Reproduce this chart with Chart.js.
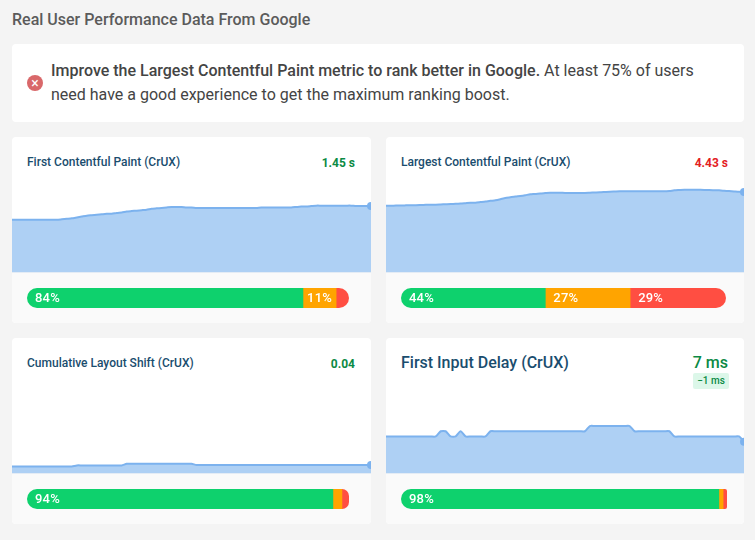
<!DOCTYPE html>
<html>
<head>
<meta charset="utf-8">
<title>Real User Performance Data From Google</title>
<script src="https://cdn.jsdelivr.net/npm/chart.js@4"></script>
<style>
  html, body { margin: 0; padding: 0; width: 755px; height: 540px; overflow: hidden; background: #f4f4f4; font-family: Roboto, sans-serif; }
  h1 { position: absolute; left: 12px; top: 10px; margin: 0; font-size: 16px; line-height: 20px; font-weight: 500; color: #5b5b5b; white-space: nowrap; }
  .notice { position: absolute; left: 12px; top: 44px; width: 732px; height: 78px; background: #fff; border-radius: 4px; }
  .notice .icon { position: absolute; left: 15px; top: 31px; width: 16px; height: 16px; border-radius: 50%; background: #d9686a; color: #fff; font-size: 14px; line-height: 16px; text-align: center; }
  .notice p { position: absolute; left: 39px; top: 15px; margin: 0; width: 680px; font-size: 16px; line-height: 24px; color: #444; }
  .notice b { font-weight: 500; }
  .card { position: absolute; width: 359px; height: 186px; background: #fff; border-radius: 4px; overflow: hidden; }
  .card .lower { position: absolute; left: 0; right: 0; top: 135px; bottom: 0; background: #fafafa; border-top: 1px solid #e4ecf5; }
  .card .title { position: absolute; left: 15px; top: 17px; font-size: 12px; line-height: 16px; font-weight: 500; color: #1a4d6e; white-space: nowrap; }
  .card .value { position: absolute; right: 16px; top: 18px; font-size: 12px; line-height: 16px; font-weight: 700; white-space: nowrap; }
  .card.big .title { top: 15px; font-size: 16px; line-height: 20px; }
  .card.big .value { top: 15px; font-size: 16px; line-height: 20px; font-weight: 500; }
  .badge { position: absolute; right: 15px; top: 35px; height: 16px; width: 36px; background: #dcf7e9; border-radius: 2px; color: #0b8a44; font-size: 10px; line-height: 16px; font-weight: 500; text-align: center; white-space: nowrap; }
  .area { position: absolute; left: 0; top: 40px; width: 100%; height: 95px; }
  .bar { position: absolute; left: 15px; top: 151px; height: 20px; }
  .good { color: #0b8a44; }
  .poor { color: #e3201f; }
</style>
</head>
<body>
<h1>Real User Performance Data From Google</h1>
<div class="notice">
  <div class="icon">×</div>
  <p><b>Improve the Largest Contentful Paint metric to rank better in Google.</b> At least 75% of users need have a good experience to get the maximum ranking boost.</p>
</div>

<div class="card" style="left:12px;top:137px">
  <div class="title">First Contentful Paint (CrUX)</div>
  <div class="value good">1.45 s</div>
  <div class="area"><canvas id="fcpArea"></canvas></div>
  <div class="lower"></div>
  <div class="bar" style="width:322px"><canvas id="fcpBar"></canvas></div>
</div>
<div class="card" style="left:386px;top:137px;width:358px">
  <div class="title">Largest Contentful Paint (CrUX)</div>
  <div class="value poor">4.43 s</div>
  <div class="area"><canvas id="lcpArea"></canvas></div>
  <div class="lower"></div>
  <div class="bar" style="width:325px"><canvas id="lcpBar"></canvas></div>
</div>
<div class="card" style="left:12px;top:338px">
  <div class="title">Cumulative Layout Shift (CrUX)</div>
  <div class="value good">0.04</div>
  <div class="area"><canvas id="clsArea"></canvas></div>
  <div class="lower"></div>
  <div class="bar" style="width:322px"><canvas id="clsBar"></canvas></div>
</div>
<div class="card big" style="left:386px;top:338px;width:358px">
  <div class="title">First Input Delay (CrUX)</div>
  <div class="value good">7 ms</div>
  <div class="badge">−1 ms</div>
  <div class="area"><canvas id="fidArea"></canvas></div>
  <div class="lower"></div>
  <div class="bar" style="width:326px"><canvas id="fidBar"></canvas></div>
</div>

<script>
const fcpValues = [
  1.15, 1.15, 1.15, 1.15, 1.15, 1.15, 1.15, 1.15, 1.15, 1.15, 1.16, 1.17, 1.18, 1.20, 1.22, 1.24, 1.25, 1.26, 1.27, 1.28,
  1.28, 1.30, 1.31, 1.33, 1.34, 1.35, 1.36, 1.37, 1.39, 1.40, 1.41, 1.42, 1.43, 1.43, 1.43, 1.42, 1.42, 1.41, 1.41, 1.41,
  1.41, 1.41, 1.41, 1.41, 1.41, 1.41, 1.41, 1.41, 1.41, 1.41, 1.42, 1.42, 1.42, 1.42, 1.42, 1.42, 1.42, 1.43, 1.44, 1.44,
  1.45, 1.46, 1.46, 1.46, 1.46, 1.46, 1.46, 1.46, 1.46, 1.45, 1.45, 1.45, 1.45
];
const lcpValues = [
  3.67, 3.67, 3.68, 3.68, 3.69, 3.70, 3.70, 3.71, 3.72, 3.73, 3.73, 3.74, 3.75, 3.76, 3.78, 3.79, 3.81, 3.83, 3.84, 3.87,
  3.90, 3.94, 3.97, 4.03, 4.10, 4.14, 4.18, 4.21, 4.25, 4.30, 4.32, 4.35, 4.37, 4.39, 4.39, 4.39, 4.38, 4.38, 4.38, 4.38,
  4.38, 4.39, 4.40, 4.41, 4.43, 4.45, 4.46, 4.47, 4.47, 4.47, 4.47, 4.47, 4.47, 4.47, 4.47, 4.47, 4.47, 4.49, 4.52, 4.54,
  4.56, 4.56, 4.56, 4.55, 4.54, 4.54, 4.53, 4.52, 4.50, 4.48, 4.46, 4.44, 4.43
];
const clsValues = [
  0.033, 0.033, 0.033, 0.033, 0.033, 0.033, 0.033, 0.033, 0.033, 0.033, 0.033, 0.033, 0.033, 0.038, 0.038, 0.038, 0.038, 0.038, 0.038, 0.038,
  0.038, 0.038, 0.038, 0.046, 0.046, 0.046, 0.046, 0.046, 0.046, 0.046, 0.046, 0.046, 0.046, 0.046, 0.046, 0.046, 0.046, 0.040, 0.040, 0.040,
  0.040, 0.040, 0.040, 0.040, 0.040, 0.040, 0.040, 0.040, 0.040, 0.040, 0.040, 0.040, 0.040, 0.040, 0.040, 0.040, 0.040, 0.040, 0.040, 0.040,
  0.040, 0.040, 0.040, 0.040, 0.040, 0.040, 0.040, 0.040, 0.040, 0.040, 0.040, 0.040, 0.040
];
const fidValues = [
  7, 7, 7, 7, 7, 7, 7, 7, 7, 7, 7, 8, 8, 7, 7, 8, 7, 7, 7, 7,
  7, 8, 8, 8, 8, 8, 8, 8, 8, 8, 8, 8, 8, 8, 8, 8, 8, 8, 8, 8,
  8, 9, 9, 9, 9, 9, 9, 9, 9, 9, 8, 8, 8, 8, 8, 8, 8, 8, 7, 7,
  7, 7, 7, 7, 7, 7, 7, 7, 7, 7, 7, 7, 6
];

const segmentNames = ["Good", "Needs improvement", "Poor"];
const segmentColors = ["#0ed16d", "#ffa400", "#ff4e42"];
const fcpShares = [85.7, 10.3, 4.0];
const lcpShares = [44.4, 26.1, 29.5];
const clsShares = [95.0, 2.8, 2.2];
const fidShares = [97.5, 1.3, 1.2];
const fcpLabels = ["84%", "11%", ""];
const lcpLabels = ["44%", "27%", "29%"];
const clsLabels = ["94%", "", ""];
const fidLabels = ["98%", "", ""];

function drawArea(id, values, yMax) {
  const last = values.length - 1;
  new Chart(document.getElementById(id), {
    type: "line",
    data: {
      labels: values.map((v, i) => i),
      datasets: [
        {
          data: values,
          borderColor: "#7cb2ee",
          backgroundColor: "#aed0f4",
          borderWidth: 2,
          tension: 0.2,
          fill: true,
          clip: false,
          pointRadius: (ctx) => (ctx.dataIndex === last ? 4 : 0),
          pointBackgroundColor: "#7cb2ee",
          pointBorderWidth: 0,
        },
      ],
    },
    options: {
      responsive: true,
      maintainAspectRatio: false,
      animation: false,
      layout: { padding: 0, autoPadding: false },
      plugins: { legend: { display: false }, tooltip: { enabled: false } },
      scales: {
        x: { display: false },
        y: { display: false, min: 0, max: yMax },
      },
    },
  });
}

// rounds the ends of the whole bar, then writes the percent text on the segments
const barFinish = {
  id: "barFinish",
  beforeDatasetsDraw(chart, args, opts) {
    const ctx = chart.ctx;
    const a = chart.chartArea;
    const r = opts.endRadius;
    ctx.save();
    ctx.beginPath();
    ctx.roundRect(a.left, a.top, a.right - a.left, a.bottom - a.top, [10, r, r, 10]);
    ctx.clip();
  },
  afterDatasetsDraw(chart, args, opts) {
    const ctx = chart.ctx;
    ctx.restore();
    ctx.save();
    ctx.font = "500 13px Roboto";
    ctx.letterSpacing = "0.2px";
    ctx.fillStyle = "#fff";
    ctx.textBaseline = "middle";
    opts.labels.forEach((text, i) => {
      if (!text) return;
      const bar = chart.getDatasetMeta(i).data[0];
      const w = bar.x - bar.base;
      const pad = Math.min(8, (w - ctx.measureText(text).width) / 2);
      ctx.fillText(text, bar.base + pad, bar.y + 0.5);
    });
    ctx.restore();
  },
};

function drawBar(id, shares, labels, endRadius) {
  new Chart(document.getElementById(id), {
    type: "bar",
    data: {
      labels: [""],
      datasets: shares.map((s, i) => ({
        label: segmentNames[i],
        data: [s],
        backgroundColor: segmentColors[i],
        borderWidth: 0,
        barPercentage: 1,
        categoryPercentage: 1,
      })),
    },
    options: {
      indexAxis: "y",
      responsive: true,
      maintainAspectRatio: false,
      animation: false,
      layout: { padding: 0, autoPadding: false },
      plugins: {
        legend: { display: false },
        tooltip: { enabled: false },
        barFinish: { labels: labels, endRadius: endRadius },
      },
      scales: {
        x: { display: false, stacked: true, min: 0, max: 100 },
        y: { display: false, stacked: true },
      },
    },
    plugins: [barFinish],
  });
}

drawArea("fcpArea", fcpValues, 2.09);
drawArea("lcpArea", lcpValues, 5.26);
drawArea("clsArea", clsValues, 0.475);
drawArea("fidArea", fidValues, 18.2);

drawBar("fcpBar", fcpShares, fcpLabels, 10);
drawBar("lcpBar", lcpShares, lcpLabels, 10);
drawBar("clsBar", clsShares, clsLabels, 7);
drawBar("fidBar", fidShares, fidLabels, 2);
</script>
</body>
</html>
